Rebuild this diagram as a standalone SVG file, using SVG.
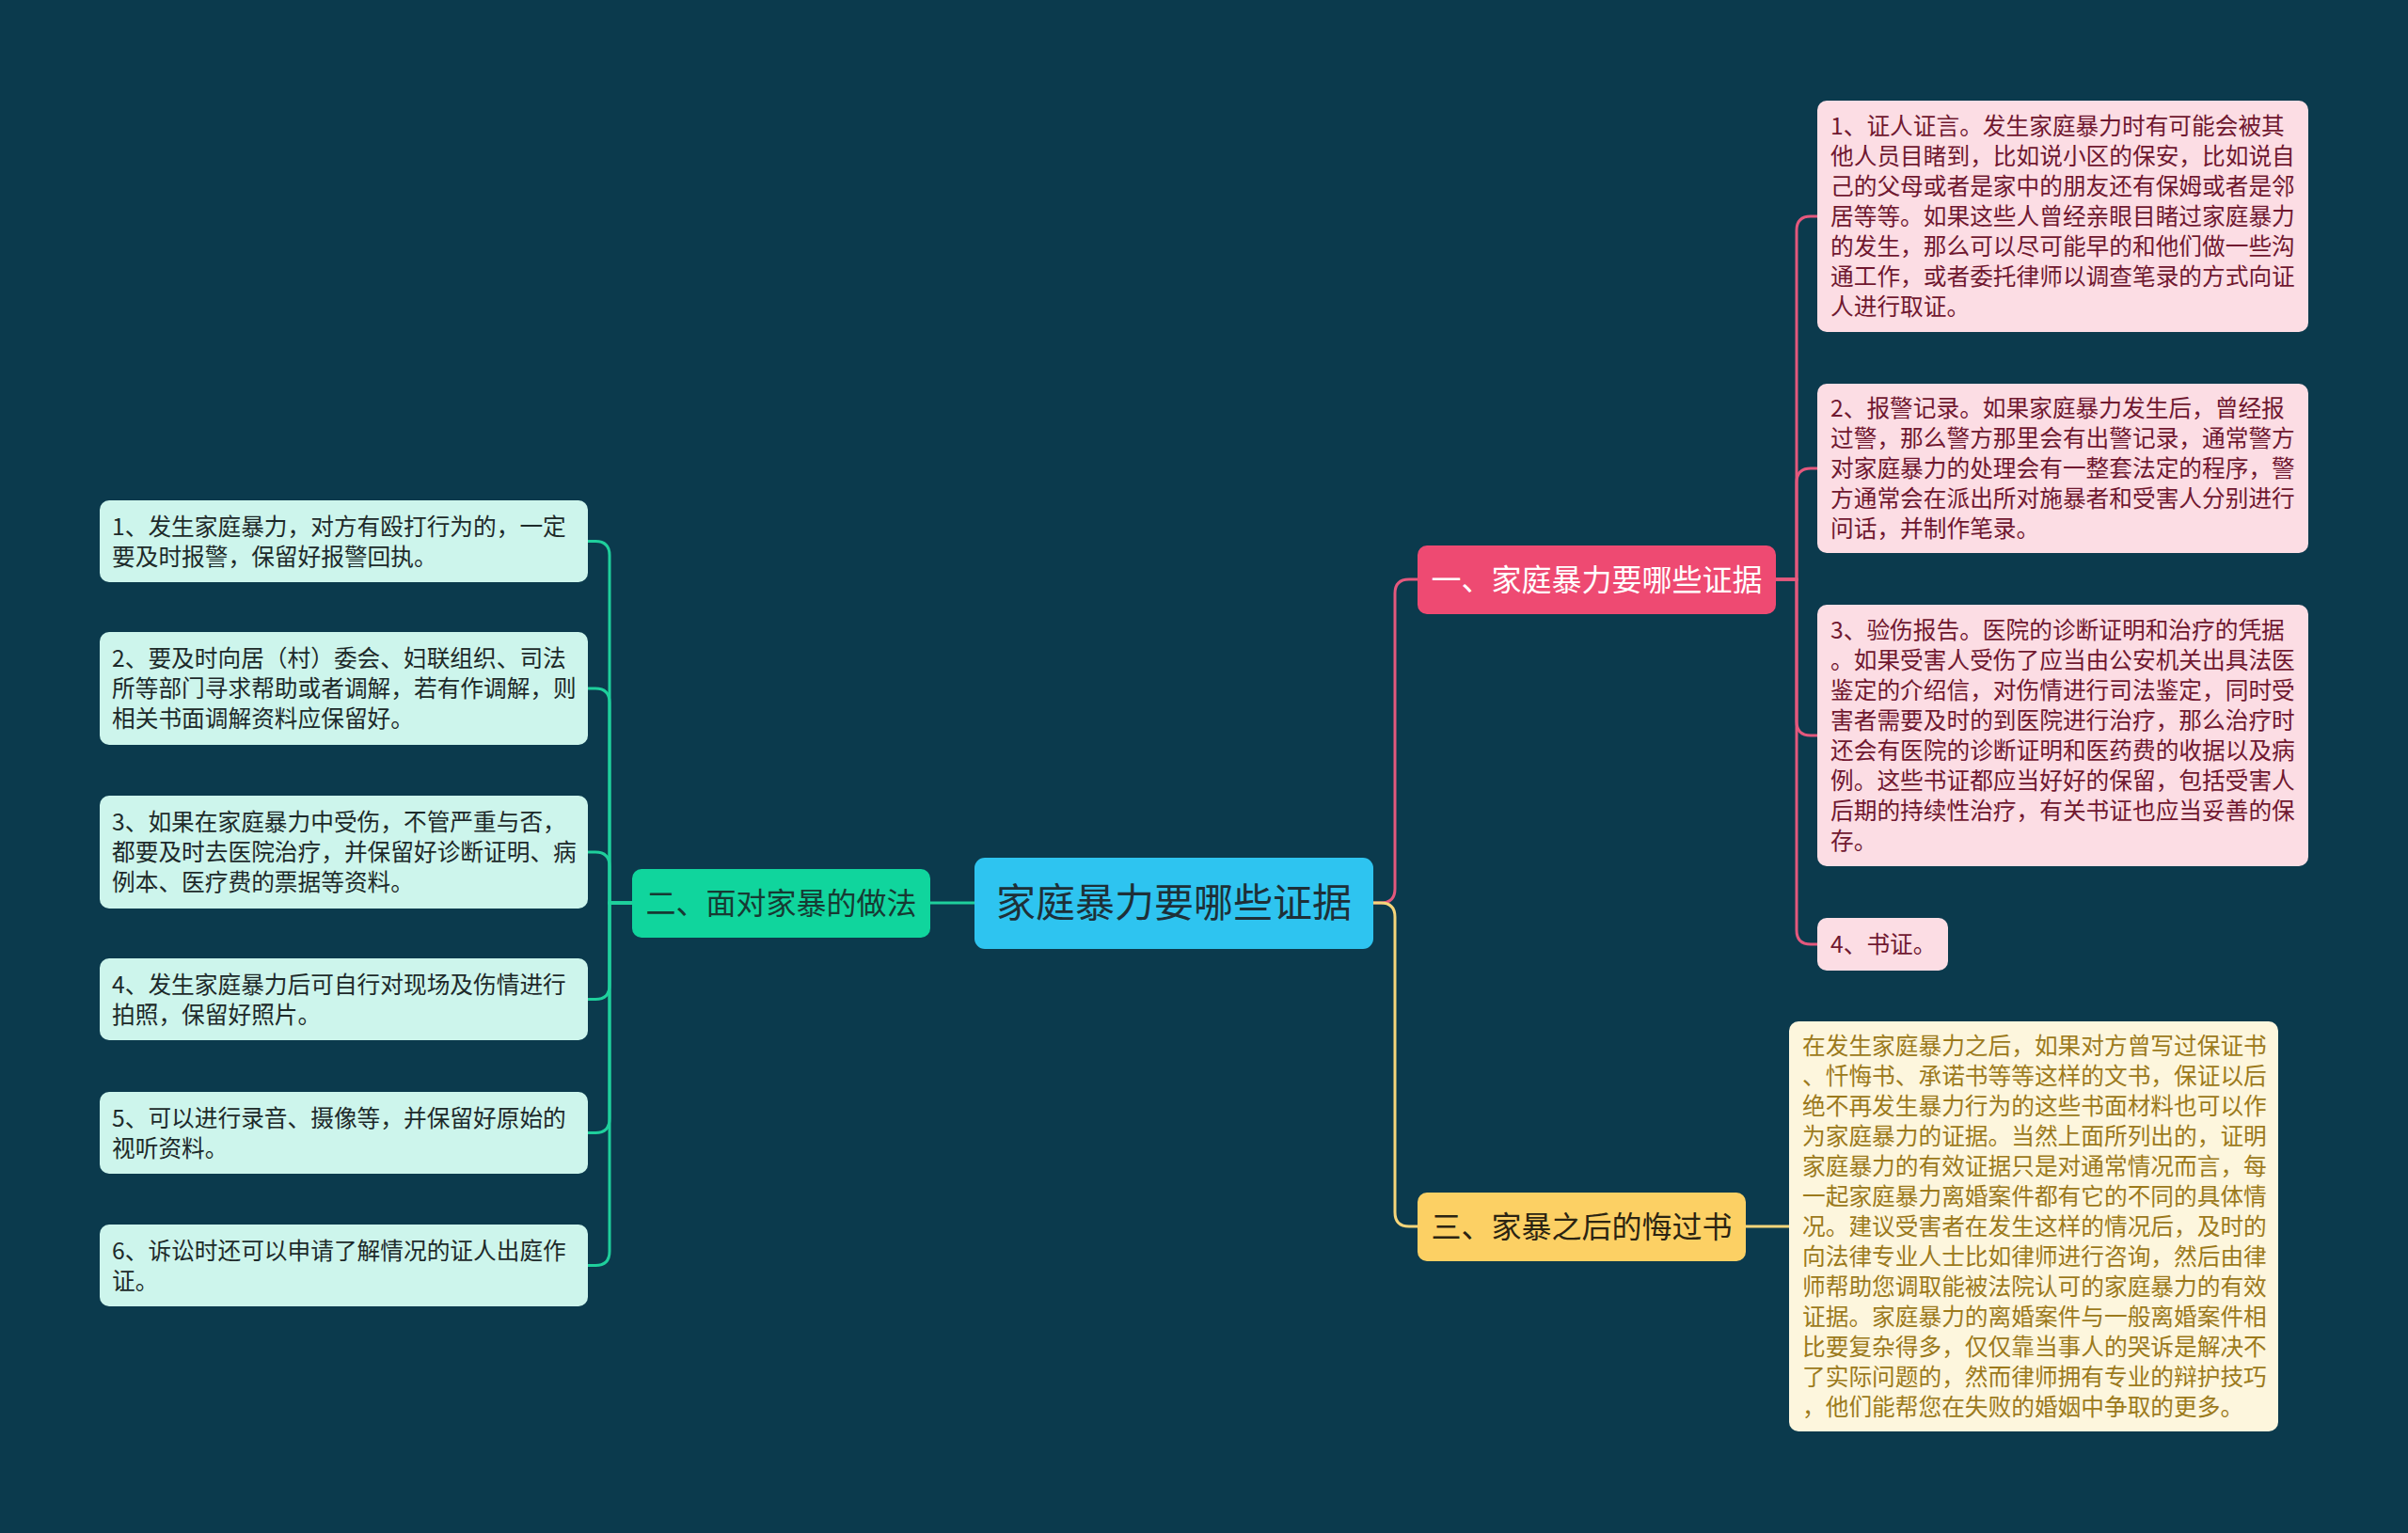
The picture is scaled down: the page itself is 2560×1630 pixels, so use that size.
<svg xmlns="http://www.w3.org/2000/svg" width="2560" height="1630" viewBox="0 0 2560 1630">
<style>
text{font-family:"Noto Sans CJK SC","Noto Sans",sans-serif;}
.leaf{font-size:24.7px;}
.pinkLeaf rect{fill:#fcdde4;}
.pinkLeaf text{fill:#701830;}
.greenLeaf rect{fill:#cdf5ec;}
.greenLeaf text{fill:#1d2a2a;}
.yellowLeaf rect{fill:#fdf6dd;}
.yellowLeaf text{fill:#9c7a1c;}
.conn path{fill:none;stroke-width:3;}
.cp{stroke:#e4587d;}
.cg{stroke:#1fcf9c;}
.cy{stroke:#f5d57a;}
.br{font-size:32px;}
</style>
<rect x="0" y="0" width="2560" height="1630" fill="#0b3a4d"/>
<g class="conn">
<path class="cp" d="M1460,960 H1468 Q1483,960 1483,945 V631 Q1483,616 1498,616 H1507"/>
<path class="cy" d="M1460,960 H1468 Q1483,960 1483,975 V1289 Q1483,1304 1498,1304 H1507"/>
<path class="cg" d="M1036,960 H989"/>
<path class="cp" d="M1888,616 H1910 V245 Q1910,230 1925,230 H1932"/>
<path class="cp" d="M1888,616 H1910 V513 Q1910,498 1925,498 H1932"/>
<path class="cp" d="M1888,616 H1910 V767 Q1910,782 1925,782 H1932"/>
<path class="cp" d="M1888,616 H1910 V989 Q1910,1004 1925,1004 H1932"/>
<path class="cy" d="M1856,1304 H1902"/>
<path class="cg" d="M672,960 H648 V590.5 Q648,575.5 633,575.5 H625"/>
<path class="cg" d="M672,960 H648 V747 Q648,732 633,732 H625"/>
<path class="cg" d="M672,960 H648 V921 Q648,906 633,906 H625"/>
<path class="cg" d="M672,960 H648 V1047.5 Q648,1062.5 633,1062.5 H625"/>
<path class="cg" d="M672,960 H648 V1189.5 Q648,1204.5 633,1204.5 H625"/>
<path class="cg" d="M672,960 H648 V1330.5 Q648,1345.5 633,1345.5 H625"/>
</g>
<g id="center">
<rect x="1036" y="912" width="424" height="97" rx="11" fill="#2ec4f0"/>
<text x="1248" y="975" font-size="42" text-anchor="middle" fill="#1e3038">家庭暴力要哪些证据</text>
</g>
<g id="branch1">
<rect x="1507" y="580" width="381" height="73" rx="10" fill="#ee4a72"/>
<text class="br" x="1697.5" y="627.5" text-anchor="middle" fill="#ffffff">一、家庭暴力要哪些证据</text>
</g>
<g id="branch2">
<rect x="672" y="924" width="317" height="73" rx="10" fill="#10d59d"/>
<text class="br" x="830.5" y="971.5" text-anchor="middle" fill="#173a33">二、面对家暴的做法</text>
</g>
<g id="branch3">
<rect x="1507" y="1268" width="349" height="73" rx="10" fill="#fcd064"/>
<text class="br" x="1681.5" y="1315.5" text-anchor="middle" fill="#2b2412">三、家暴之后的悔过书</text>
</g>
<g id="leaf1-1" class="pinkLeaf">
<rect x="1932" y="107" width="522" height="246" rx="10"/>
<text class="leaf" x="1946" y="143"><tspan x="1946">1、证人证言。发生家庭暴力时有可能会被其</tspan><tspan x="1946" dy="32">他人员目睹到，比如说小区的保安，比如说自</tspan><tspan x="1946" dy="32">己的父母或者是家中的朋友还有保姆或者是邻</tspan><tspan x="1946" dy="32">居等等。如果这些人曾经亲眼目睹过家庭暴力</tspan><tspan x="1946" dy="32">的发生，那么可以尽可能早的和他们做一些沟</tspan><tspan x="1946" dy="32">通工作，或者委托律师以调查笔录的方式向证</tspan><tspan x="1946" dy="32">人进行取证。</tspan></text>
</g>
<g id="leaf1-2" class="pinkLeaf">
<rect x="1932" y="408" width="522" height="180" rx="10"/>
<text class="leaf" x="1946" y="443"><tspan x="1946">2、报警记录。如果家庭暴力发生后，曾经报</tspan><tspan x="1946" dy="32">过警，那么警方那里会有出警记录，通常警方</tspan><tspan x="1946" dy="32">对家庭暴力的处理会有一整套法定的程序，警</tspan><tspan x="1946" dy="32">方通常会在派出所对施暴者和受害人分别进行</tspan><tspan x="1946" dy="32">问话，并制作笔录。</tspan></text>
</g>
<g id="leaf1-3" class="pinkLeaf">
<rect x="1932" y="643" width="522" height="278" rx="10"/>
<text class="leaf" x="1946" y="679"><tspan x="1946">3、验伤报告。医院的诊断证明和治疗的凭据</tspan><tspan x="1946" dy="32">。如果受害人受伤了应当由公安机关出具法医</tspan><tspan x="1946" dy="32">鉴定的介绍信，对伤情进行司法鉴定，同时受</tspan><tspan x="1946" dy="32">害者需要及时的到医院进行治疗，那么治疗时</tspan><tspan x="1946" dy="32">还会有医院的诊断证明和医药费的收据以及病</tspan><tspan x="1946" dy="32">例。这些书证都应当好好的保留，包括受害人</tspan><tspan x="1946" dy="32">后期的持续性治疗，有关书证也应当妥善的保</tspan><tspan x="1946" dy="32">存。</tspan></text>
</g>
<g id="leaf1-4" class="pinkLeaf">
<rect x="1932" y="976" width="139" height="56" rx="10"/>
<text class="leaf" x="1946" y="1013">4、书证。</text>
</g>
<g id="leaf3-1" class="yellowLeaf">
<rect x="1902" y="1086" width="520" height="436" rx="10"/>
<text class="leaf" x="1916" y="1121"><tspan x="1916">在发生家庭暴力之后，如果对方曾写过保证书</tspan><tspan x="1916" dy="32">、忏悔书、承诺书等等这样的文书，保证以后</tspan><tspan x="1916" dy="32">绝不再发生暴力行为的这些书面材料也可以作</tspan><tspan x="1916" dy="32">为家庭暴力的证据。当然上面所列出的，证明</tspan><tspan x="1916" dy="32">家庭暴力的有效证据只是对通常情况而言，每</tspan><tspan x="1916" dy="32">一起家庭暴力离婚案件都有它的不同的具体情</tspan><tspan x="1916" dy="32">况。建议受害者在发生这样的情况后，及时的</tspan><tspan x="1916" dy="32">向法律专业人士比如律师进行咨询，然后由律</tspan><tspan x="1916" dy="32">师帮助您调取能被法院认可的家庭暴力的有效</tspan><tspan x="1916" dy="32">证据。家庭暴力的离婚案件与一般离婚案件相</tspan><tspan x="1916" dy="32">比要复杂得多，仅仅靠当事人的哭诉是解决不</tspan><tspan x="1916" dy="32">了实际问题的，然而律师拥有专业的辩护技巧</tspan><tspan x="1916" dy="32">，他们能帮您在失败的婚姻中争取的更多。</tspan></text>
</g>
<g id="leaf2-1" class="greenLeaf">
<rect x="106" y="532" width="519" height="87" rx="10"/>
<text class="leaf" x="119" y="568.5"><tspan x="119">1、发生家庭暴力，对方有殴打行为的，一定</tspan><tspan x="119" dy="32">要及时报警，保留好报警回执。</tspan></text>
</g>
<g id="leaf2-2" class="greenLeaf">
<rect x="106" y="672" width="519" height="120" rx="10"/>
<text class="leaf" x="119" y="709"><tspan x="119">2、要及时向居（村）委会、妇联组织、司法</tspan><tspan x="119" dy="32">所等部门寻求帮助或者调解，若有作调解，则</tspan><tspan x="119" dy="32">相关书面调解资料应保留好。</tspan></text>
</g>
<g id="leaf2-3" class="greenLeaf">
<rect x="106" y="846" width="519" height="120" rx="10"/>
<text class="leaf" x="119" y="883"><tspan x="119">3、如果在家庭暴力中受伤，不管严重与否，</tspan><tspan x="119" dy="32">都要及时去医院治疗，并保留好诊断证明、病</tspan><tspan x="119" dy="32">例本、医疗费的票据等资料。</tspan></text>
</g>
<g id="leaf2-4" class="greenLeaf">
<rect x="106" y="1019" width="519" height="87" rx="10"/>
<text class="leaf" x="119" y="1055.5"><tspan x="119">4、发生家庭暴力后可自行对现场及伤情进行</tspan><tspan x="119" dy="32">拍照，保留好照片。</tspan></text>
</g>
<g id="leaf2-5" class="greenLeaf">
<rect x="106" y="1161" width="519" height="87" rx="10"/>
<text class="leaf" x="119" y="1197.5"><tspan x="119">5、可以进行录音、摄像等，并保留好原始的</tspan><tspan x="119" dy="32">视听资料。</tspan></text>
</g>
<g id="leaf2-6" class="greenLeaf">
<rect x="106" y="1302" width="519" height="87" rx="10"/>
<text class="leaf" x="119" y="1338.5"><tspan x="119">6、诉讼时还可以申请了解情况的证人出庭作</tspan><tspan x="119" dy="32">证。</tspan></text>
</g>
</svg>
